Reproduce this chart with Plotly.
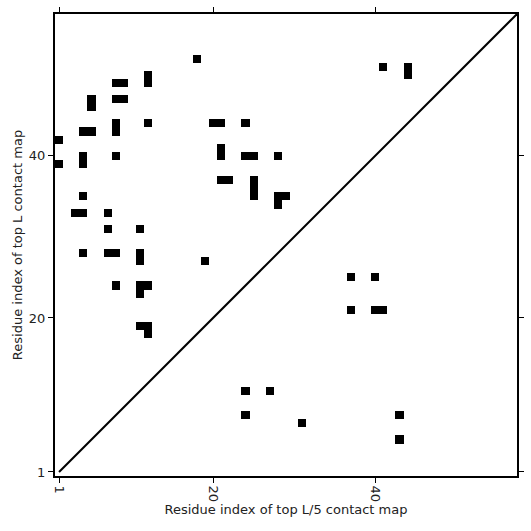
import plotly.graph_objects as go

L = 57
contact_x = [18, 12, 12, 8, 9, 5, 5, 8, 9, 1, 4, 5, 8, 8, 12, 20, 21, 24,
             21, 21, 24, 25, 28, 1, 4, 4, 8, 21, 22, 25, 25, 25, 28, 29, 28,
             4, 3, 4, 7, 7, 11, 4, 7, 8, 11, 11, 19, 8, 11, 12, 11, 11, 12, 12,
             37, 40, 37, 40, 41, 24, 27, 24, 31, 43, 43, 41, 44, 44]
contact_y = [52, 49, 50, 49, 49, 46, 47, 47, 47, 42, 43, 43, 43, 44, 44, 44, 44, 44,
             40, 41, 40, 40, 40, 39, 39, 40, 40, 37, 37, 35, 36, 37, 35, 35, 34,
             35, 33, 33, 33, 31, 31, 28, 28, 28, 27, 28, 27, 24, 24, 24, 23, 19, 19, 18,
             25, 25, 21, 21, 21, 11, 11, 8, 7, 8, 5, 51, 50, 51]
tick_vals = [1, 20, 40]
tick_text = ["1", "20", "40"]

z = [[0] * L for _ in range(L)]
for cx, cy in zip(contact_x, contact_y):
    z[cy - 1][cx - 1] = 1

idx = list(range(1, L + 1))

fig = go.Figure()
fig.add_trace(go.Heatmap(
    x=idx, y=idx, z=z, zmin=0, zmax=1,
    colorscale=[[0, "white"], [1, "black"]],
    showscale=False, hoverinfo="skip",
))
fig.add_trace(go.Scatter(
    x=[1, L + 0.5], y=[1, L + 0.5], mode="lines",
    line=dict(color="black", width=2), hoverinfo="skip", showlegend=False,
))

axis_common = dict(
    range=[0.5, L + 0.5], tickvals=tick_vals, ticktext=tick_text,
    showline=True, linecolor="black", linewidth=2, mirror="ticks",
    ticks="outside", ticklen=5, tickwidth=1, tickcolor="black",
    showgrid=False, zeroline=False, automargin=False,
    tickfont=dict(family="DejaVu Sans", size=13, color="#222"),
)

fig.update_layout(
    width=531, height=531,
    margin=dict(l=55, r=14, t=14, b=55, autoexpand=False),
    plot_bgcolor="white", paper_bgcolor="white",
    showlegend=False,
    font=dict(family="DejaVu Sans", size=13, color="#222"),
    xaxis=dict(axis_common, tickangle=90,
               title=dict(text="Residue index of top L/5 contact map", standoff=4,
                          font=dict(size=13))),
    yaxis=dict(axis_common,
               title=dict(text="Residue index of top L contact map", standoff=3,
                          font=dict(size=13))),
)

fig.write_html("out.html", config={"displayModeBar": False},
               post_script="document.body.style.margin='0';")
